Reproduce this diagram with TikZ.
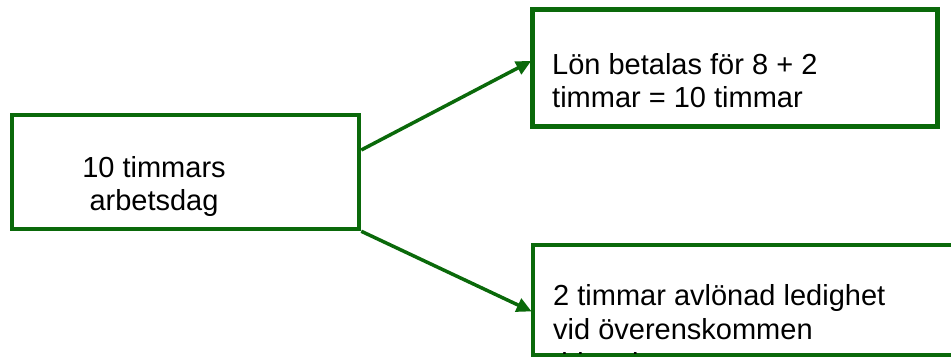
\documentclass[tikz,border=0pt]{standalone}
\usepackage{fontspec}
\setmainfont{Liberation Sans}
\usetikzlibrary{arrows.meta}
\definecolor{dgreen}{RGB}{10,105,10}
\tikzset{
  box/.style={draw=dgreen, line width=4.5pt, inner sep=0pt, fill=white},
  lbl/.style={inner sep=0pt, font=\fontsize{29}{33}\selectfont},
  conn/.style={draw=dgreen, line width=3.5pt, -{Triangle[length=15pt,width=14pt]}, shorten >=-1pt}
}
\begin{document}
\begin{tikzpicture}[x=1pt,y=-1pt]
\useasboundingbox (0,0) rectangle (951,359);
\clip (0,0) rectangle (951,359);
\node[box, minimum width=347pt, minimum height=114pt] (L) at (185.5,172) {};
\node[box, minimum width=405pt, minimum height=117pt] (T) at (735,68) {};
\node[box, minimum width=430pt, minimum height=110pt] (B) at (748,300) {};
\node[lbl, anchor=base] (lt1) at (154,177.5) {10 timmars};
\node[lbl, anchor=base] (lt2) at (154,210.5) {arbetsdag};
\node[lbl, anchor=base west] (tt1) at (552,74) {Lön betalas för 8 + 2};
\node[lbl, anchor=base west] (tt2) at (552,107) {timmar = 10 timmar};
\begin{scope}
\clip (530,245) rectangle (951,353);
\node[lbl, anchor=base west] (bt1) at (553,305) {2 timmar avlönad ledighet};
\node[lbl, anchor=base west] (bt2) at (553,339) {vid överenskommen};
\node[lbl, anchor=base west] (bt3) at (553,373) {tidpunkt};
\end{scope}
\draw[conn] ([yshift=22pt]L.east) -- ([yshift=6.5pt]T.west);
\draw[conn] (L.south east) -- ([yshift=-11pt]B.west);
\end{tikzpicture}
\end{document}
